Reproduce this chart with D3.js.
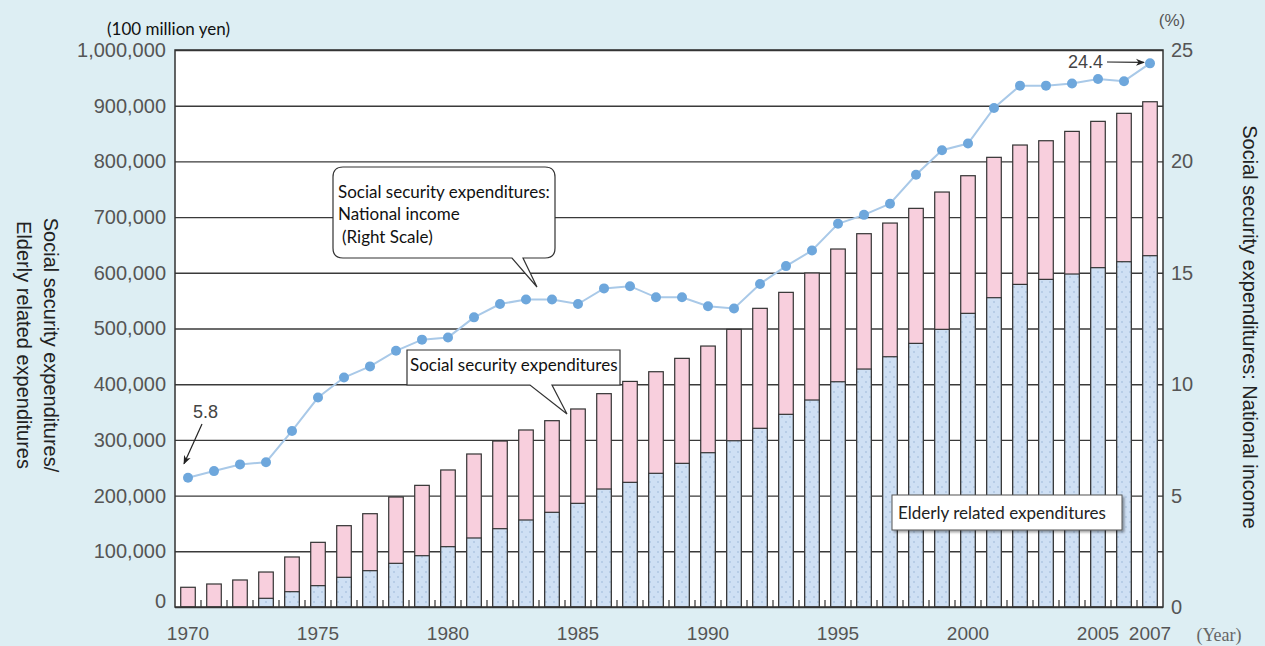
<!DOCTYPE html>
<html>
<head>
<meta charset="utf-8">
<script src="https://cdn.jsdelivr.net/npm/d3@7"></script>
<style>
  html, body { margin: 0; padding: 0; background: #ddeef3; }
  svg { display: block; }
</style>
</head>
<body>
<svg id="chart" width="1265" height="646"></svg>
<script>
// ---- data (100 million yen / %) ----
var years = [1970,1971,1972,1973,1974,1975,1976,1977,1978,1979,
             1980,1981,1982,1983,1984,1985,1986,1987,1988,1989,
             1990,1991,1992,1993,1994,1995,1996,1997,1998,1999,
             2000,2001,2002,2003,2004,2005,2006,2007];

var socialSecurity = [35400, 41300, 48500, 62800, 89800, 116100, 146000, 167500, 197500, 218400,
                      246000, 274700, 298000, 317800, 334500, 355500, 383000, 405000, 422400, 446400,
                      468500, 498500, 536200, 564900, 599600, 642700, 670200, 689300, 715700, 745000,
                      774300, 807300, 829400, 837100, 853900, 871900, 886300, 907100];

var elderly = [null, null, null, 15600, 27500, 38300, 53300, 65200, 78400, 92100,
               108300, 123900, 140600, 156200, 170000, 186100, 211800, 223800, 240000, 257900,
               277000, 298500, 320800, 345900, 371600, 404400, 427200, 449300, 473300, 498500,
               527200, 555300, 579200, 588200, 597800, 609200, 619900, 630700];

var ratio = [5.8, 6.1, 6.4, 6.5, 7.9, 9.4, 10.3, 10.8, 11.5, 12.0,
             12.1, 13.0, 13.6, 13.8, 13.8, 13.6, 14.3, 14.4, 13.9, 13.9,
             13.5, 13.4, 14.5, 15.3, 16.0, 17.2, 17.6, 18.1, 19.4, 20.5,
             20.8, 22.4, 23.4, 23.4, 23.5, 23.7, 23.6, 24.4];

var yearTicks = [1970, 1975, 1980, 1985, 1990, 1995, 2000, 2005, 2007];
var leftTicks = [0,100000,200000,300000,400000,500000,600000,700000,800000,900000,1000000];
var rightTicks = [0, 5, 10, 15, 20, 25];

// ---- layout ----
var plotL = 175, plotR = 1163, plotT = 50, plotB = 607;

var svg = d3.select('#chart');

var x = d3.scaleBand().domain(years).range([plotL, plotR]).paddingInner(0.44).paddingOuter(0.22);
var yL = d3.scaleLinear().domain([0, 1000000]).range([plotB, plotT]);
var yR = d3.scaleLinear().domain([0, 25]).range([plotB, plotT]);

var defs = svg.append('defs');

// dotted blue fill for elderly bars
var pat = defs.append('pattern')
  .attr('id', 'dots')
  .attr('patternUnits', 'userSpaceOnUse')
  .attr('width', 8).attr('height', 10);
pat.append('rect').attr('width', 8).attr('height', 10).attr('fill', '#cfe0f4');
pat.append('circle').attr('cx', 2).attr('cy', 2).attr('r', 0.8).attr('fill', '#98b6d8');
pat.append('circle').attr('cx', 6).attr('cy', 7).attr('r', 0.8).attr('fill', '#98b6d8');

defs.append('marker')
  .attr('id', 'arrow')
  .attr('viewBox', '0 0 10 10')
  .attr('refX', 9).attr('refY', 5)
  .attr('markerWidth', 9).attr('markerHeight', 9)
  .attr('markerUnits', 'userSpaceOnUse')
  .attr('orient', 'auto')
  .append('path').attr('d', 'M0,1 L10,5 L0,9 L3,5 Z').attr('fill', '#222');

var shadow = defs.append('filter').attr('id', 'shadow')
  .attr('x', '-5%').attr('y', '-20%').attr('width', '115%').attr('height', '150%');
shadow.append('feDropShadow')
  .attr('dx', 2).attr('dy', 2).attr('stdDeviation', 1)
  .attr('flood-color', '#000').attr('flood-opacity', 0.35);

// plot background
svg.append('rect')
  .attr('x', plotL).attr('y', plotT)
  .attr('width', plotR - plotL).attr('height', plotB - plotT)
  .attr('fill', '#fff');

// gridlines
svg.append('g')
  .attr('transform', 'translate(' + plotL + ',0)')
  .call(d3.axisLeft(yL).tickValues(leftTicks).tickSize(-(plotR - plotL)).tickFormat(''))
  .call(function(g) {
    g.select('.domain').remove();
    g.selectAll('line').attr('stroke', '#3a3a3a').attr('stroke-width', 1.4);
  });

// bars: total (pink)
svg.append('g').selectAll('rect')
  .data(years)
  .join('rect')
  .attr('x', function(d) { return x(d); })
  .attr('width', x.bandwidth())
  .attr('y', function(d, i) { return yL(socialSecurity[i]); })
  .attr('height', function(d, i) { return plotB - yL(socialSecurity[i]); })
  .attr('fill', '#f8cfdd')
  .attr('stroke', '#333')
  .attr('stroke-width', 1.2);

// bars: elderly related (dotted blue)
svg.append('g').selectAll('rect')
  .data(years.filter(function(d, i) { return elderly[i] != null; }))
  .join('rect')
  .attr('x', function(d) { return x(d); })
  .attr('width', x.bandwidth())
  .attr('y', function(d) { return yL(elderly[years.indexOf(d)]); })
  .attr('height', function(d) { return plotB - yL(elderly[years.indexOf(d)]); })
  .attr('fill', 'url(#dots)')
  .attr('stroke', '#333')
  .attr('stroke-width', 1.2);

// small inward ticks between bars
function gapX(d) { return x(d) + x.bandwidth() + (x.step() - x.bandwidth()) / 2; }
svg.append('g').selectAll('line')
  .data(years.slice(0, -1))
  .join('line')
  .attr('x1', gapX).attr('x2', gapX)
  .attr('y1', plotB).attr('y2', plotB - 7)
  .attr('stroke', '#333').attr('stroke-width', 1.2);

// plot frame
svg.append('rect')
  .attr('x', plotL).attr('y', plotT)
  .attr('width', plotR - plotL).attr('height', plotB - plotT)
  .attr('fill', 'none').attr('stroke', '#333').attr('stroke-width', 1.5);

// ratio line (right scale)
var line = d3.line()
  .x(function(d, i) { return x(years[i]) + x.bandwidth() / 2; })
  .y(function(d) { return yR(d); });

svg.append('path')
  .datum(ratio)
  .attr('d', line)
  .attr('fill', 'none')
  .attr('stroke', '#a9c9e8')
  .attr('stroke-width', 2);

svg.append('g').selectAll('circle')
  .data(ratio)
  .join('circle')
  .attr('cx', function(d, i) { return x(years[i]) + x.bandwidth() / 2; })
  .attr('cy', function(d) { return yR(d); })
  .attr('r', 5)
  .attr('fill', '#6ea7dc');

// ---- axes ----
var tickFont = 'Liberation Sans, Arial, sans-serif';

svg.append('g')
  .attr('transform', 'translate(' + plotL + ',0)')
  .call(d3.axisLeft(yL).tickValues(leftTicks).tickSize(0).tickPadding(9).tickFormat(d3.format(',')))
  .call(function(g) {
    g.select('.domain').remove();
    g.selectAll('text').attr('font-family', tickFont).attr('font-size', 20).attr('fill', '#555');
    // the zero label sits just above the baseline
    g.selectAll('.tick').filter(function(d) { return d === 0; }).select('text').attr('y', -6);
  });

svg.append('g')
  .attr('transform', 'translate(' + plotR + ',0)')
  .call(d3.axisRight(yR).tickValues(rightTicks).tickSize(0).tickPadding(8))
  .call(function(g) {
    g.select('.domain').remove();
    g.selectAll('text').attr('font-family', tickFont).attr('font-size', 20).attr('fill', '#555');
  });

svg.append('g')
  .attr('transform', 'translate(0,' + plotB + ')')
  .call(d3.axisBottom(x).tickValues(yearTicks).tickSize(0).tickPadding(20))
  .call(function(g) {
    g.select('.domain').remove();
    g.selectAll('text').attr('font-family', tickFont).attr('font-size', 19).attr('fill', '#555');
  });

// unit labels
svg.append('text')
  .attr('x', 107).attr('y', 35)
  .attr('font-family', 'Lato, sans-serif').attr('font-size', 17).attr('fill', '#111')
  .text('(100 million yen)');

svg.append('text')
  .attr('x', 1172).attr('y', 26).attr('text-anchor', 'middle')
  .attr('font-family', tickFont).attr('font-size', 17).attr('fill', '#555')
  .text('(%)');

svg.append('text')
  .attr('x', 1219).attr('y', 641).attr('text-anchor', 'middle')
  .attr('font-family', 'Liberation Serif, serif').attr('font-size', 18).attr('fill', '#666')
  .text('(Year)');

// axis titles (rotated, reading top to bottom)
var leftTitle = svg.append('text')
  .attr('transform', 'translate(44,345) rotate(90)')
  .attr('text-anchor', 'middle')
  .attr('font-family', tickFont).attr('font-size', 20).attr('fill', '#222');
leftTitle.append('tspan').attr('x', 0).attr('y', 0).text('Social security expenditures/');
leftTitle.append('tspan').attr('x', 0).attr('y', 27).text('Elderly related expenditures');

svg.append('text')
  .attr('transform', 'translate(1243,327) rotate(90)')
  .attr('text-anchor', 'middle')
  .attr('font-family', tickFont).attr('font-size', 20).attr('fill', '#222')
  .text('Social security expenditures: National income');

// ---- annotations ----
var noteFont = 'Lato, sans-serif';

// first / last value labels
var firstX = x(years[0]) + x.bandwidth() / 2, firstY = yR(ratio[0]);
svg.append('text')
  .attr('x', 193).attr('y', 418)
  .attr('font-family', tickFont).attr('font-size', 18).attr('fill', '#444')
  .text(ratio[0]);
svg.append('line')
  .attr('x1', 202).attr('y1', 424).attr('x2', firstX - 4).attr('y2', firstY - 14)
  .attr('stroke', '#222').attr('stroke-width', 1.2).attr('marker-end', 'url(#arrow)');

var lastX = x(years[years.length - 1]) + x.bandwidth() / 2, lastY = yR(ratio[ratio.length - 1]);
svg.append('text')
  .attr('x', 1068).attr('y', 68)
  .attr('font-family', tickFont).attr('font-size', 18).attr('fill', '#444')
  .text(ratio[ratio.length - 1]);
svg.append('line')
  .attr('x1', 1107).attr('y1', 62).attr('x2', lastX - 6).attr('y2', lastY - 1)
  .attr('stroke', '#222').attr('stroke-width', 1.2).attr('marker-end', 'url(#arrow)');

// rounded callout for the ratio line
svg.append('path')
  .attr('d', 'M343,167 H545 Q555,167 555,177 V248 Q555,258 545,258 H523 L537,287 L512,258 H343 Q333,258 333,248 V177 Q333,167 343,167 Z')
  .attr('fill', '#fff').attr('stroke', '#333').attr('stroke-width', 1.2);
var c1 = svg.append('text')
  .attr('font-family', noteFont).attr('font-size', 17).attr('fill', '#111');
c1.append('tspan').attr('x', 338).attr('y', 198).text('Social security expenditures:');
c1.append('tspan').attr('x', 338).attr('y', 220).text('National income');
c1.append('tspan').attr('x', 342).attr('y', 243).text('(Right Scale)');

// callout for total bars
svg.append('path')
  .attr('d', 'M407,350 H620 V385 H552 L567,414 L530,385 H407 Z')
  .attr('fill', '#fff').attr('stroke', '#333').attr('stroke-width', 1.2);
svg.append('text')
  .attr('x', 410).attr('y', 371)
  .attr('font-family', noteFont).attr('font-size', 17).attr('fill', '#111')
  .text('Social security expenditures');

// label for elderly bars
svg.append('rect')
  .attr('x', 892).attr('y', 495).attr('width', 230).attr('height', 35)
  .attr('fill', '#fff').attr('stroke', '#555').attr('stroke-width', 1)
  .attr('filter', 'url(#shadow)');
svg.append('text')
  .attr('x', 898).attr('y', 519)
  .attr('font-family', noteFont).attr('font-size', 17).attr('fill', '#222')
  .text('Elderly related expenditures');
</script>
</body>
</html>
